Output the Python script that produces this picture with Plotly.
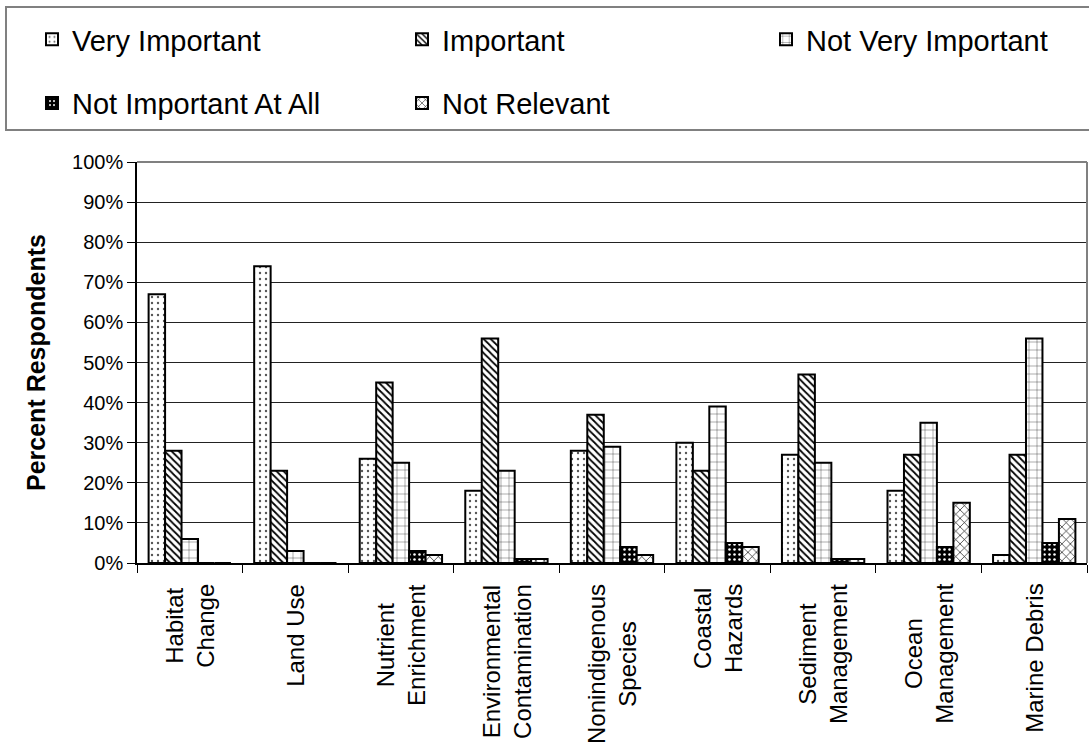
import plotly.graph_objects as go

# Survey categories (line breaks as shown on the axis)
categories = [
    "Habitat<br>Change", "Land Use", "Nutrient<br>Enrichment",
    "Environmental<br>Contamination", "Nonindigenous<br>Species",
    "Coastal<br>Hazards", "Sediment<br>Management", "Ocean<br>Management",
    "Marine Debris",
]

# Percent of respondents per rating
very_important = [67, 74, 26, 18, 28, 30, 27, 18, 2]
important = [28, 23, 45, 56, 37, 23, 47, 27, 27]
not_very_important = [6, 3, 25, 23, 29, 39, 25, 35, 56]
not_important_at_all = [0, 0, 3, 1, 4, 5, 1, 4, 5]
not_relevant = [0, 0, 2, 1, 2, 4, 1, 15, 11]

FONT = "Arial, Liberation Sans, sans-serif"
W, H = 1089, 742
L, R, T, B = 137, 2, 162, 179
PW, PH = W - L - R, H - T - B


def px_x(p):
    return (p - L) / PW


def px_y(p):
    return (H - B - p) / PH


series = {
    "Very Important": (very_important, "legend",
        dict(shape=".", fgcolor="#555555", bgcolor="white", size=6, solidity=0.12, fillmode="replace")),
    "Important": (important, "legend2",
        dict(shape="\\", fgcolor="black", bgcolor="white", size=5, solidity=0.35, fillmode="replace")),
    "Not Very Important": (not_very_important, "legend3",
        dict(shape="+", fgcolor="black", bgcolor="white", size=8, solidity=0.08, fillmode="replace")),
    "Not Important At All": (not_important_at_all, "legend",
        dict(shape=".", fgcolor="white", bgcolor="black", size=5, solidity=0.2, fillmode="replace")),
    "Not Relevant": (not_relevant, "legend2",
        dict(shape="x", fgcolor="black", bgcolor="white", size=6, solidity=0.2, fillmode="replace")),
}

fig = go.Figure()
for name, (vals, leg, pat) in series.items():
    fig.add_trace(go.Bar(
        name=name, x=categories, y=vals, legend=leg, legendgroup=name,
        marker=dict(color=pat["bgcolor"], line=dict(color="black", width=2), pattern=pat),
    ))

legend_common = dict(
    orientation="v", xanchor="left", yanchor="top", bgcolor="rgba(0,0,0,0)",
    borderwidth=0, font=dict(family=FONT, size=29, color="black"),
    tracegroupgap=23, traceorder="grouped",
)

# category labels, rotated and centred under each group
label_annotations = [
    dict(x=c, y=px_y(582), xref="x", yref="paper", text=c, showarrow=False,
         textangle=-90, xanchor="center", yanchor="top", align="center",
         font=dict(family=FONT, size=24, color="black"))
    for c in categories
]

fig.update_layout(
    width=W, height=H,
    margin=dict(l=L, r=R, t=T, b=B, autoexpand=False),
    paper_bgcolor="white", plot_bgcolor="white",
    barmode="group", bargap=0.22, bargroupgap=0,
    font=dict(family=FONT, color="black"),
    showlegend=True,
    legend=dict(x=px_x(32), y=px_y(14), **legend_common),
    legend2=dict(x=px_x(402), y=px_y(14), **legend_common),
    legend3=dict(x=px_x(766), y=px_y(14), **legend_common),
    xaxis=dict(
        type="category", showline=True, linecolor="black", linewidth=1.5,
        ticks="outside", tickson="boundaries", ticklen=8, tickcolor="black",
        showticklabels=False, showgrid=False, automargin=False,
    ),
    yaxis=dict(
        range=[0, 100], dtick=10, ticksuffix="%", showline=True,
        linecolor="black", linewidth=1.5, ticks="outside", ticklen=8,
        tickcolor="black", tickfont=dict(family=FONT, size=20, color="black"),
        showgrid=True, gridcolor="#222222", gridwidth=1, zeroline=False,
        automargin=False,
        title=dict(text="<b>Percent Respondents</b>", standoff=19,
                   font=dict(family=FONT, size=25, color="black")),
    ),
    annotations=label_annotations,
    shapes=[
        # frame around the legend block
        dict(type="rect", xref="paper", yref="paper",
             x0=px_x(6), x1=px_x(1100), y0=px_y(130), y1=px_y(7),
             line=dict(color="#808080", width=2), fillcolor="rgba(0,0,0,0)"),
        # plot-area border (top and right)
        dict(type="line", xref="paper", yref="paper", x0=0, x1=1, y0=1, y1=1,
             line=dict(color="#808080", width=2)),
        dict(type="line", xref="paper", yref="paper", x0=1, x1=1, y0=0, y1=1,
             line=dict(color="#808080", width=2)),
    ],
)

fig.write_html("out.html")
